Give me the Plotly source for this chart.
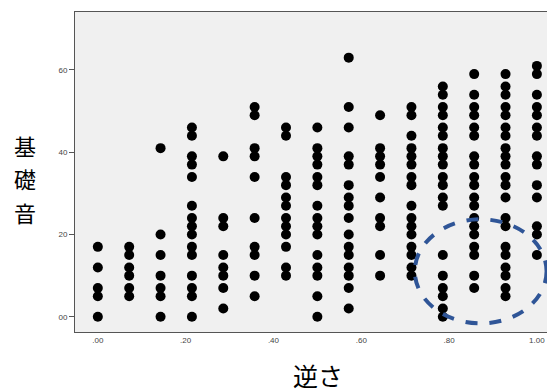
import plotly.graph_objects as go

# x categories (k/14)
x_values = [k / 14 for k in range(15)]

# y values per column
col_values = [
    [0, 5, 7, 12, 17],
    [5, 7, 10, 12, 15, 17],
    [0, 5, 7, 10, 15, 20, 41],
    [0, 5, 7, 10, 15, 17, 20, 22, 24, 27, 34, 37, 39, 44, 46],
    [2, 7, 10, 12, 15, 22, 24, 39],
    [5, 10, 15, 17, 24, 34, 39, 41, 49, 51],
    [10, 12, 17, 20, 22, 24, 27, 29, 32, 34, 44, 46],
    [0, 5, 10, 12, 15, 20, 22, 24, 27, 32, 34, 37, 39, 41, 46],
    [2, 7, 10, 12, 15, 17, 20, 24, 27, 29, 32, 37, 39, 46, 51, 63],
    [10, 15, 22, 24, 29, 34, 37, 39, 41, 49],
    [10, 12, 15, 17, 20, 22, 24, 27, 32, 34, 37, 39, 41, 44, 49, 51],
    [0, 2, 5, 7, 10, 15, 27, 29, 32, 34, 37, 39, 41, 44, 46, 49, 51, 54, 56],
    [7, 10, 15, 17, 20, 22, 24, 27, 29, 32, 34, 37, 39, 44, 46, 49, 51, 54, 59],
    [5, 7, 10, 12, 15, 17, 22, 24, 29, 32, 34, 37, 39, 41, 44, 46, 49, 51, 54, 56, 59],
    [15, 20, 22, 29, 32, 37, 39, 44, 46, 49, 51, 54, 59, 61],
]

x_tick_vals = [0, 0.2, 0.4, 0.6, 0.8, 1.0]
x_tick_text = [".00", ".20", ".40", ".60", ".80", "1.00"]
y_tick_vals = [0, 20, 40, 60]
y_tick_text = ["00", "20", "40", "60"]
y_title_chars = ["基", "礎", "音"]
x_title = "逆さ"

xs, ys = [], []
for xv, col in zip(x_values, col_values):
    for yv in col:
        xs.append(xv)
        ys.append(yv)

fig = go.Figure()
fig.add_trace(go.Scatter(
    x=xs, y=ys, mode="markers",
    marker=dict(color="black", size=10, symbol="circle", line=dict(width=0)),
    showlegend=False, hoverinfo="skip",
))

# highlighted region (dashed ellipse)
fig.add_shape(type="circle", xref="x", yref="y",
              x0=0.722, x1=1.022, y0=-1.6, y1=23.7,
              line=dict(color="#2f5597", width=4, dash="dash"))

annotations = [
    dict(text=x_title, xref="paper", yref="paper", x=0.515, y=-0.135,
         xanchor="center", yanchor="middle", showarrow=False,
         font=dict(size=25, color="black", family="Noto Sans CJK JP")),
]
for i, ch in enumerate(y_title_chars):
    annotations.append(dict(
        text=ch, xref="paper", x=-0.106, yref="paper", y=0.584 - i * 0.104,
        xanchor="center", yanchor="middle", showarrow=False,
        font=dict(size=22, color="black", family="Noto Sans CJK JP")))

fig.update_layout(
    width=548, height=392,
    margin=dict(l=75, r=1, t=12, b=60),
    paper_bgcolor="white",
    plot_bgcolor="#f0f0f0",
    font=dict(family="Liberation Sans, Arial, sans-serif", color="#333"),
    xaxis=dict(
        range=[-0.052, 1.023], tickvals=x_tick_vals, ticktext=x_tick_text,
        showgrid=False, zeroline=False, showline=True, linecolor="#555",
        linewidth=1, mirror=True, ticks="", tickfont=dict(size=8, color="#444"),
    ),
    yaxis=dict(
        range=[-3.7, 74.1], tickvals=y_tick_vals, ticktext=y_tick_text,
        showgrid=False, zeroline=False, showline=True, linecolor="#555",
        linewidth=1, ticks="outside", ticklen=5, tickcolor="#555",
        tickfont=dict(size=8, color="#444"),
    ),
    annotations=annotations,
)

fig.write_html("out.html", config={"displayModeBar": False},
               post_script="document.body.style.margin='0px';document.body.style.overflow='hidden';")
